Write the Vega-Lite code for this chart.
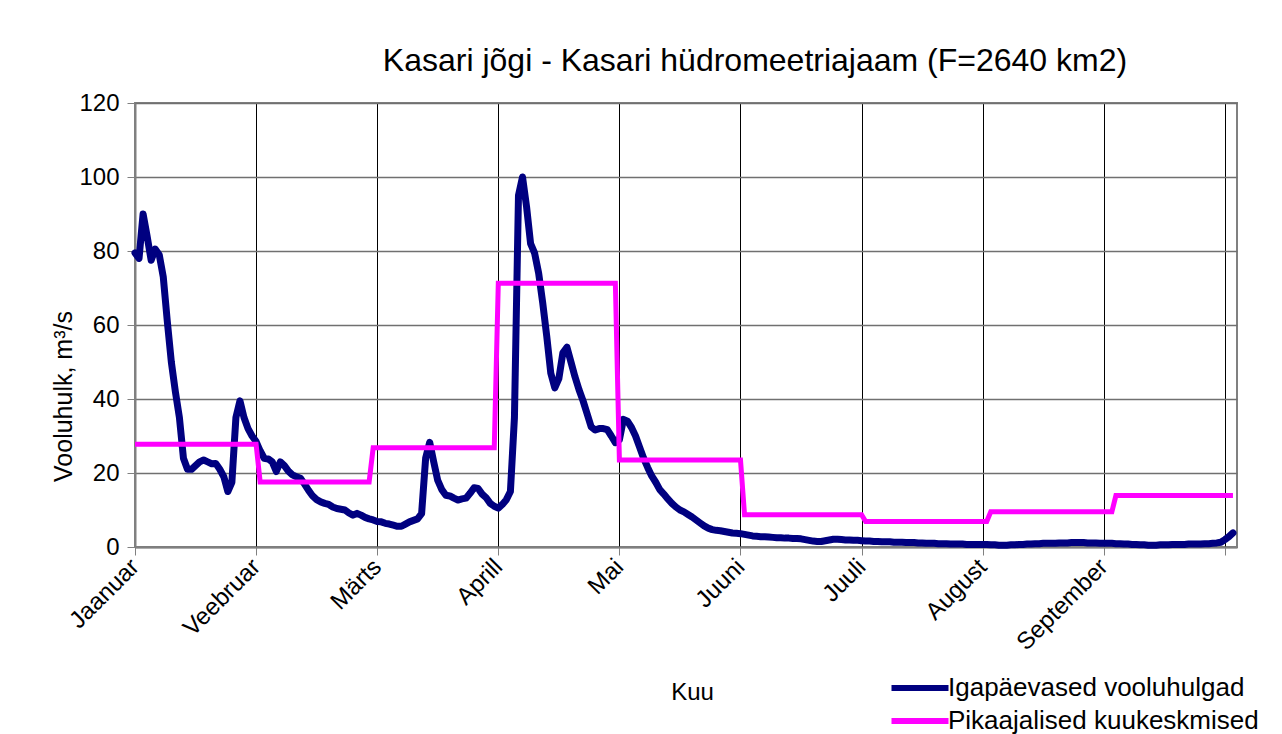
{
  "$schema": "https://vega.github.io/schema/vega-lite/v6.json",
  "autosize": {"type": "none"},
  "padding": {"left": 135, "top": 103, "right": 45, "bottom": 187},
  "width": 1102,
  "height": 444,
  "background": "white",
  "title": {
    "text": "Kasari jõgi - Kasari hüdromeetriajaam (F=2640 km2)",
    "font": "Liberation Sans",
    "fontSize": 32,
    "fontWeight": "normal",
    "color": "black",
    "anchor": "middle",
    "dx": 69,
    "baseline": "middle",
    "offset": -2
  },
  "data": {"values": [
    {"d":0,"q":79.5,"m":27.8},{"d":1,"q":78,"m":27.8},{"d":2,"q":90,"m":27.8},{"d":3,"q":84,"m":27.8},{"d":4,"q":77.5,"m":27.8},{"d":5,"q":80.5,"m":27.8},{"d":6,"q":79,"m":27.8},{"d":7,"q":73,"m":27.8},{"d":8,"q":61,"m":27.8},{"d":9,"q":50,"m":27.8},{"d":10,"q":42,"m":27.8},{"d":11,"q":35,"m":27.8},{"d":12,"q":24,"m":27.8},{"d":13,"q":21,"m":27.8},{"d":14,"q":21,"m":27.8},{"d":15,"q":22,"m":27.8},{"d":16,"q":23,"m":27.8},{"d":17,"q":23.5,"m":27.8},{"d":18,"q":23,"m":27.8},{"d":19,"q":22.5,"m":27.8},{"d":20,"q":22.6,"m":27.8},{"d":21,"q":21,"m":27.8},{"d":22,"q":19,"m":27.8},{"d":23,"q":15,"m":27.8},{"d":24,"q":17.5,"m":27.8},{"d":25,"q":35,"m":27.8},{"d":26,"q":39.5,"m":27.8},{"d":27,"q":35,"m":27.8},{"d":28,"q":32,"m":27.8},{"d":29,"q":30,"m":27.8},{"d":30,"q":28.5,"m":27.8},
    {"d":31,"q":26,"m":17.6},{"d":32,"q":24,"m":17.6},{"d":33,"q":23.8,"m":17.6},{"d":34,"q":23,"m":17.6},{"d":35,"q":20.4,"m":17.6},{"d":36,"q":23,"m":17.6},{"d":37,"q":22,"m":17.6},{"d":38,"q":20.5,"m":17.6},{"d":39,"q":19.5,"m":17.6},{"d":40,"q":19,"m":17.6},{"d":41,"q":18.6,"m":17.6},{"d":42,"q":17,"m":17.6},{"d":43,"q":15.3,"m":17.6},{"d":44,"q":13.8,"m":17.6},{"d":45,"q":12.8,"m":17.6},{"d":46,"q":12.2,"m":17.6},{"d":47,"q":11.8,"m":17.6},{"d":48,"q":11.5,"m":17.6},{"d":49,"q":10.8,"m":17.6},{"d":50,"q":10.4,"m":17.6},{"d":51,"q":10.2,"m":17.6},{"d":52,"q":10,"m":17.6},{"d":53,"q":9.2,"m":17.6},{"d":54,"q":8.6,"m":17.6},{"d":55,"q":9.1,"m":17.6},{"d":56,"q":8.6,"m":17.6},{"d":57,"q":8,"m":17.6},{"d":58,"q":7.6,"m":17.6},
    {"d":59,"q":7.3,"m":26.8},{"d":60,"q":6.9,"m":26.8},{"d":61,"q":6.8,"m":26.8},{"d":62,"q":6.4,"m":26.8},{"d":63,"q":6.2,"m":26.8},{"d":64,"q":5.9,"m":26.8},{"d":65,"q":5.6,"m":26.8},{"d":66,"q":5.6,"m":26.8},{"d":67,"q":6.2,"m":26.8},{"d":68,"q":6.8,"m":26.8},{"d":69,"q":7.2,"m":26.8},{"d":70,"q":7.6,"m":26.8},{"d":71,"q":9,"m":26.8},{"d":72,"q":24,"m":26.8},{"d":73,"q":28.3,"m":26.8},{"d":74,"q":23,"m":26.8},{"d":75,"q":18,"m":26.8},{"d":76,"q":15.5,"m":26.8},{"d":77,"q":14,"m":26.8},{"d":78,"q":13.8,"m":26.8},{"d":79,"q":13.2,"m":26.8},{"d":80,"q":12.7,"m":26.8},{"d":81,"q":13,"m":26.8},{"d":82,"q":13.2,"m":26.8},{"d":83,"q":14.5,"m":26.8},{"d":84,"q":16,"m":26.8},{"d":85,"q":15.8,"m":26.8},{"d":86,"q":14.3,"m":26.8},{"d":87,"q":13.3,"m":26.8},{"d":88,"q":11.8,"m":26.8},{"d":89,"q":11,"m":26.8},
    {"d":90,"q":10.5,"m":71.3},{"d":91,"q":11.5,"m":71.3},{"d":92,"q":12.8,"m":71.3},{"d":93,"q":15,"m":71.3},{"d":94,"q":35,"m":71.3},{"d":95,"q":95,"m":71.3},{"d":96,"q":100,"m":71.3},{"d":97,"q":92,"m":71.3},{"d":98,"q":82,"m":71.3},{"d":99,"q":79.4,"m":71.3},{"d":100,"q":74,"m":71.3},{"d":101,"q":66,"m":71.3},{"d":102,"q":57,"m":71.3},{"d":103,"q":47,"m":71.3},{"d":104,"q":43,"m":71.3},{"d":105,"q":45.5,"m":71.3},{"d":106,"q":52.5,"m":71.3},{"d":107,"q":54,"m":71.3},{"d":108,"q":50,"m":71.3},{"d":109,"q":46,"m":71.3},{"d":110,"q":42.5,"m":71.3},{"d":111,"q":39.5,"m":71.3},{"d":112,"q":36,"m":71.3},{"d":113,"q":32.5,"m":71.3},{"d":114,"q":31.6,"m":71.3},{"d":115,"q":32,"m":71.3},{"d":116,"q":32,"m":71.3},{"d":117,"q":31.7,"m":71.3},{"d":118,"q":30,"m":71.3},{"d":119,"q":28.2,"m":71.3},
    {"d":120,"q":29,"m":23.5},{"d":121,"q":34.5,"m":23.5},{"d":122,"q":34,"m":23.5},{"d":123,"q":32.3,"m":23.5},{"d":124,"q":30,"m":23.5},{"d":125,"q":27,"m":23.5},{"d":126,"q":24,"m":23.5},{"d":127,"q":21.5,"m":23.5},{"d":128,"q":19.2,"m":23.5},{"d":129,"q":17.5,"m":23.5},{"d":130,"q":15.5,"m":23.5},{"d":131,"q":14.3,"m":23.5},{"d":132,"q":13,"m":23.5},{"d":133,"q":11.8,"m":23.5},{"d":134,"q":10.8,"m":23.5},{"d":135,"q":10,"m":23.5},{"d":136,"q":9.5,"m":23.5},{"d":137,"q":8.8,"m":23.5},{"d":138,"q":8.1,"m":23.5},{"d":139,"q":7.3,"m":23.5},{"d":140,"q":6.5,"m":23.5},{"d":141,"q":5.7,"m":23.5},{"d":142,"q":5.1,"m":23.5},{"d":143,"q":4.7,"m":23.5},{"d":144,"q":4.5,"m":23.5},{"d":145,"q":4.4,"m":23.5},{"d":146,"q":4.2,"m":23.5},{"d":147,"q":4,"m":23.5},{"d":148,"q":3.8,"m":23.5},{"d":149,"q":3.7,"m":23.5},{"d":150,"q":3.6,"m":23.5},
    {"d":151,"q":3.4,"m":8.7},{"d":152,"q":3.2,"m":8.7},{"d":153,"q":3.0,"m":8.7},{"d":154,"q":2.9,"m":8.7},{"d":155,"q":2.8,"m":8.7},{"d":156,"q":2.8,"m":8.7},{"d":157,"q":2.7,"m":8.7},{"d":158,"q":2.6,"m":8.7},{"d":159,"q":2.5,"m":8.7},{"d":160,"q":2.5,"m":8.7},{"d":161,"q":2.4,"m":8.7},{"d":162,"q":2.4,"m":8.7},{"d":163,"q":2.3,"m":8.7},{"d":164,"q":2.3,"m":8.7},{"d":165,"q":2.2,"m":8.7},{"d":166,"q":2.0,"m":8.7},{"d":167,"q":1.8,"m":8.7},{"d":168,"q":1.6,"m":8.7},{"d":169,"q":1.5,"m":8.7},{"d":170,"q":1.5,"m":8.7},{"d":171,"q":1.7,"m":8.7},{"d":172,"q":1.9,"m":8.7},{"d":173,"q":2.1,"m":8.7},{"d":174,"q":2.1,"m":8.7},{"d":175,"q":2.0,"m":8.7},{"d":176,"q":1.9,"m":8.7},{"d":177,"q":1.9,"m":8.7},{"d":178,"q":1.8,"m":8.7},{"d":179,"q":1.8,"m":8.7},{"d":180,"q":1.7,"m":8.7},
    {"d":181,"q":1.6,"m":6.9},{"d":182,"q":1.6,"m":6.9},{"d":183,"q":1.5,"m":6.9},{"d":184,"q":1.5,"m":6.9},{"d":185,"q":1.4,"m":6.9},{"d":186,"q":1.4,"m":6.9},{"d":187,"q":1.4,"m":6.9},{"d":188,"q":1.3,"m":6.9},{"d":189,"q":1.3,"m":6.9},{"d":190,"q":1.3,"m":6.9},{"d":191,"q":1.2,"m":6.9},{"d":192,"q":1.2,"m":6.9},{"d":193,"q":1.2,"m":6.9},{"d":194,"q":1.1,"m":6.9},{"d":195,"q":1.1,"m":6.9},{"d":196,"q":1.0,"m":6.9},{"d":197,"q":1.0,"m":6.9},{"d":198,"q":1.0,"m":6.9},{"d":199,"q":0.9,"m":6.9},{"d":200,"q":0.9,"m":6.9},{"d":201,"q":0.9,"m":6.9},{"d":202,"q":0.8,"m":6.9},{"d":203,"q":0.8,"m":6.9},{"d":204,"q":0.8,"m":6.9},{"d":205,"q":0.8,"m":6.9},{"d":206,"q":0.7,"m":6.9},{"d":207,"q":0.7,"m":6.9},{"d":208,"q":0.7,"m":6.9},{"d":209,"q":0.7,"m":6.9},{"d":210,"q":0.7,"m":6.9},{"d":211,"q":0.7,"m":6.9},
    {"d":212,"q":0.6,"m":9.5},{"d":213,"q":0.6,"m":9.5},{"d":214,"q":0.5,"m":9.5},{"d":215,"q":0.5,"m":9.5},{"d":216,"q":0.5,"m":9.5},{"d":217,"q":0.6,"m":9.5},{"d":218,"q":0.6,"m":9.5},{"d":219,"q":0.7,"m":9.5},{"d":220,"q":0.7,"m":9.5},{"d":221,"q":0.8,"m":9.5},{"d":222,"q":0.8,"m":9.5},{"d":223,"q":0.9,"m":9.5},{"d":224,"q":0.9,"m":9.5},{"d":225,"q":1.0,"m":9.5},{"d":226,"q":1.0,"m":9.5},{"d":227,"q":1.0,"m":9.5},{"d":228,"q":1.0,"m":9.5},{"d":229,"q":1.1,"m":9.5},{"d":230,"q":1.1,"m":9.5},{"d":231,"q":1.1,"m":9.5},{"d":232,"q":1.2,"m":9.5},{"d":233,"q":1.2,"m":9.5},{"d":234,"q":1.2,"m":9.5},{"d":235,"q":1.2,"m":9.5},{"d":236,"q":1.1,"m":9.5},{"d":237,"q":1.1,"m":9.5},{"d":238,"q":1.1,"m":9.5},{"d":239,"q":1.0,"m":9.5},{"d":240,"q":1.0,"m":9.5},{"d":241,"q":1.0,"m":9.5},{"d":242,"q":1.0,"m":9.5},
    {"d":243,"q":0.9,"m":13.9},{"d":244,"q":0.9,"m":13.9},{"d":245,"q":0.8,"m":13.9},{"d":246,"q":0.8,"m":13.9},{"d":247,"q":0.7,"m":13.9},{"d":248,"q":0.7,"m":13.9},{"d":249,"q":0.6,"m":13.9},{"d":250,"q":0.6,"m":13.9},{"d":251,"q":0.5,"m":13.9},{"d":252,"q":0.5,"m":13.9},{"d":253,"q":0.5,"m":13.9},{"d":254,"q":0.6,"m":13.9},{"d":255,"q":0.6,"m":13.9},{"d":256,"q":0.6,"m":13.9},{"d":257,"q":0.7,"m":13.9},{"d":258,"q":0.7,"m":13.9},{"d":259,"q":0.7,"m":13.9},{"d":260,"q":0.7,"m":13.9},{"d":261,"q":0.8,"m":13.9},{"d":262,"q":0.8,"m":13.9},{"d":263,"q":0.8,"m":13.9},{"d":264,"q":0.8,"m":13.9},{"d":265,"q":0.9,"m":13.9},{"d":266,"q":0.9,"m":13.9},{"d":267,"q":1.0,"m":13.9},{"d":268,"q":1.1,"m":13.9},{"d":269,"q":1.3,"m":13.9},{"d":270,"q":2.0,"m":13.9},{"d":271,"q":2.8,"m":13.9},{"d":272,"q":3.8,"m":13.9}
  ]},
  "encoding": {
    "x": {
      "field": "d", "type": "quantitative",
      "scale": {"domain": [0, 273], "nice": false, "zero": false},
      "axis": {
        "values": [0, 30, 60, 90, 120, 150, 180, 210, 240, 270],
        "labelExpr": "['Jaanuar','Veebruar','Märts','Aprill','Mai','Juuni','Juuli','August','September',''][round(datum.value/30)]",
        "labelAngle": -45,
        "labelAlign": "right",
        "labelBaseline": "middle",
        "labelFont": "Liberation Sans",
        "labelFontSize": 24,
        "labelColor": "black",
        "labelPadding": 8,
        "labelOverlap": false,
        "labelBound": false,
        "labelFlush": false,
        "domainColor": "#808080",
        "domainWidth": 2,
        "tickColor": "#808080",
        "tickSize": 8,
        "tickWidth": 1,
        "grid": true,
        "gridColor": "#000000",
        "gridWidth": 1,
        "title": "Kuu",
        "titleFont": "Liberation Sans",
        "titleFontSize": 24,
        "titleFontWeight": "normal",
        "titleColor": "black",
        "titleX": 557,
        "titleY": 145,
        "titleBaseline": "middle",
        "titleAlign": "center"
      }
    },
    "y": {
      "type": "quantitative",
      "scale": {"domain": [0, 120], "nice": false},
      "axis": {
        "values": [0, 20, 40, 60, 80, 100, 120],
        "labelFont": "Liberation Sans",
        "labelFontSize": 24,
        "labelColor": "black",
        "labelPadding": 8,
        "domainColor": "#808080",
        "domainWidth": 2,
        "tickColor": "#808080",
        "tickSize": 8,
        "grid": true,
        "gridColor": "#707070",
        "gridWidth": 1.5,
        "title": "Vooluhulk, m³/s",
        "titleFont": "Liberation Sans",
        "titleFontSize": 25,
        "titleFontWeight": "normal",
        "titleColor": "black",
        "titleX": -72,
        "titleY": 293,
        "titleAlign": "center",
        "titleBaseline": "middle",
        "titleAngle": -90
      }
    }
  },
  "layer": [
    {
      "mark": {"type": "line", "strokeWidth": 7, "strokeCap": "round", "strokeJoin": "round"},
      "encoding": {
        "y": {"field": "q", "type": "quantitative"},
        "color": {"datum": "Igapäevased vooluhulgad", "type": "nominal",
          "scale": {"domain": ["Igapäevased vooluhulgad", "Pikaajalised kuukeskmised"], "range": ["#000080", "#FF00FF"]},
          "legend": {
            "title": null,
            "orient": "none",
            "legendX": 772,
            "legendY": 572,
            "symbolType": "M-3,0H3",
            "symbolSize": 361,
            "symbolStrokeWidth": 6,
            "labelFont": "Liberation Sans",
            "labelFontSize": 26,
            "labelColor": "black",
            "labelOffset": 15,
            "labelLimit": 500,
            "rowPadding": 7
          }
        }
      }
    },
    {
      "mark": {"type": "line", "strokeWidth": 5},
      "encoding": {
        "y": {"field": "m", "type": "quantitative"},
        "color": {"datum": "Pikaajalised kuukeskmised", "type": "nominal"}
      }
    }
  ],
  "config": {
    "view": {"stroke": "#808080", "strokeWidth": 2},
    "axis": {"ticks": true}
  }
}
